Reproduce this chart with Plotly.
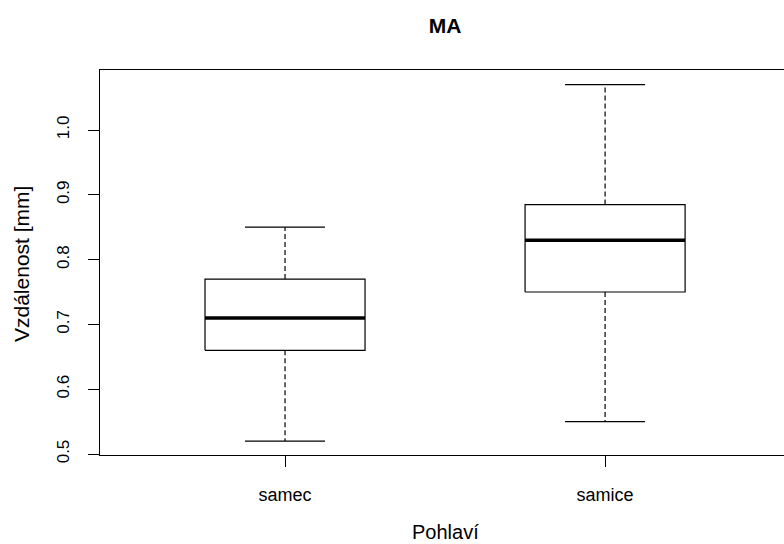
import plotly.graph_objects as go

# Box-plot summary of MA distance by sex
groups = ["samec", "samice"]
positions = [1, 2]
lower_whisker = [0.52, 0.55]
q1 = [0.66, 0.75]
median = [0.71, 0.83]
q3 = [0.77, 0.885]
upper_whisker = [0.85, 1.07]

y_ticks = [0.5, 0.6, 0.7, 0.8, 0.9, 1.0]

FONT = "Liberation Sans, Arial, sans-serif"
BOX_HALF = 0.25
CAP_HALF = 0.125

fig = go.Figure()

for pos, lo, a, m, b, hi in zip(positions, lower_whisker, q1, median, q3, upper_whisker):
    line = dict(color="black", width=1.2)
    # box outline
    fig.add_trace(go.Scatter(
        x=[pos - BOX_HALF, pos + BOX_HALF, pos + BOX_HALF, pos - BOX_HALF, pos - BOX_HALF],
        y=[a, a, b, b, a], mode="lines", line=line, hoverinfo="skip"))
    # median
    fig.add_trace(go.Scatter(
        x=[pos - BOX_HALF, pos + BOX_HALF], y=[m, m], mode="lines",
        line=dict(color="black", width=3.5), hoverinfo="skip"))
    # dashed whiskers
    for y0, y1 in ((b, hi), (a, lo)):
        fig.add_trace(go.Scatter(
            x=[pos, pos], y=[y0, y1], mode="lines",
            line=dict(color="black", width=1.2, dash="5px,3px"), hoverinfo="skip"))
    # whisker caps
    for yc in (hi, lo):
        fig.add_trace(go.Scatter(
            x=[pos - CAP_HALF, pos + CAP_HALF], y=[yc, yc], mode="lines",
            line=line, hoverinfo="skip"))

fig.update_layout(
    width=784, height=544,
    margin=dict(l=100, r=0, t=70, b=89),
    plot_bgcolor="white", paper_bgcolor="white",
    showlegend=False,
    font=dict(family=FONT, color="black"),
    title=dict(text="<b>MA</b>", x=445 / 784, xanchor="center",
               y=1 - 26 / 544, yanchor="middle", yref="container",
               font=dict(size=21, family=FONT, color="black")),
    xaxis=dict(range=[0.4219, 2.559], tickvals=positions, ticktext=groups,
               showgrid=False, zeroline=False, showline=True, mirror=True,
               linecolor="black", linewidth=1.2, ticks="outside", ticklen=11,
               tickcolor="black", tickwidth=1, ticklabelstandoff=12,
               tickfont=dict(size=18, family=FONT, color="black")),
    yaxis=dict(range=[0.4985, 1.0926], tickvals=y_ticks,
               ticktext=[f"{v:.1f}" for v in y_ticks],
               showgrid=False, zeroline=False, showline=True, mirror=False,
               linecolor="black", linewidth=1.2, ticks="outside", ticklen=11,
               tickcolor="black", tickwidth=1, tickangle=-90,
               ticklabelstandoff=12,
               tickfont=dict(size=17, family=FONT, color="black")),
    annotations=[
        dict(text="Pohlaví", xref="paper", yref="paper",
             x=(445 - 100) / 684, y=-(532 - 455) / 385,
             xanchor="center", yanchor="middle", showarrow=False,
             font=dict(size=20, family=FONT, color="black")),
        dict(text="Vzdálenost [mm]", xref="paper", yref="paper",
             x=(21 - 100) / 684, y=(455 - 264) / 385, textangle=-90,
             xanchor="center", yanchor="middle", showarrow=False,
             font=dict(size=21, family=FONT, color="black")),
    ],
)

fig.write_html("out.html")
